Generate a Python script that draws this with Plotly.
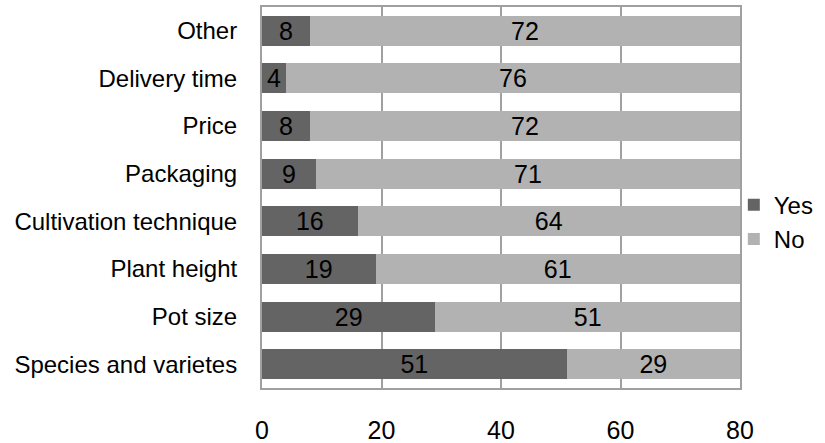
import plotly.graph_objects as go

# Survey responses per criterion (counts), bottom-to-top order
categories = ["Species and varietes", "Pot size", "Plant height", "Cultivation technique",
              "Packaging", "Price", "Delivery time", "Other"]
yes_counts = [51, 29, 19, 16, 9, 8, 4, 8]
no_counts = [29, 51, 61, 64, 71, 72, 76, 72]
x_ticks = [0, 20, 40, 60, 80]

FONT = "Liberation Sans, Arial, sans-serif"
FS = 24
FS_NUM = 25

fig = go.Figure()
for name, vals, color in [("Yes", yes_counts, "#646464"), ("No", no_counts, "#b2b2b2")]:
    fig.add_trace(go.Bar(
        name=name, y=categories, x=vals, orientation="h", legendgroup=name,
        marker=dict(color=color, line=dict(width=0)),
        text=vals, texttemplate="%{x}", textposition="inside",
        insidetextanchor="middle", textangle=0,
        textfont=dict(family=FONT, size=FS_NUM, color="#000000"),
    ))

fig.update_layout(
    barmode="stack",
    bargap=0.37,
    width=825, height=443,
    margin=dict(l=262, r=84, t=7, b=55),
    paper_bgcolor="white", plot_bgcolor="white",
    font=dict(family=FONT, size=FS, color="#000000"),
    uniformtext=dict(minsize=FS_NUM, mode="show"),
    legend=dict(x=0.985, y=0.435, xanchor="left", yanchor="middle",
                traceorder="normal", tracegroupgap=7, font=dict(size=FS),
                itemwidth=30, bgcolor="rgba(0,0,0,0)"),
)
fig.update_xaxes(
    range=[0, 80], tickvals=x_ticks, showgrid=True, gridcolor="#a0a0a0", gridwidth=2,
    showline=True, linecolor="#a0a0a0", linewidth=2, mirror=True,
    zeroline=False, ticks="", ticklabelstandoff=19, automargin=False,
    tickfont=dict(size=FS_NUM),
)
fig.update_yaxes(
    showgrid=False, showline=True, linecolor="#a0a0a0", linewidth=2, mirror=True,
    ticks="", ticklabelstandoff=18, automargin=False, tickfont=dict(size=FS),
)

fig.write_html("out.html")
